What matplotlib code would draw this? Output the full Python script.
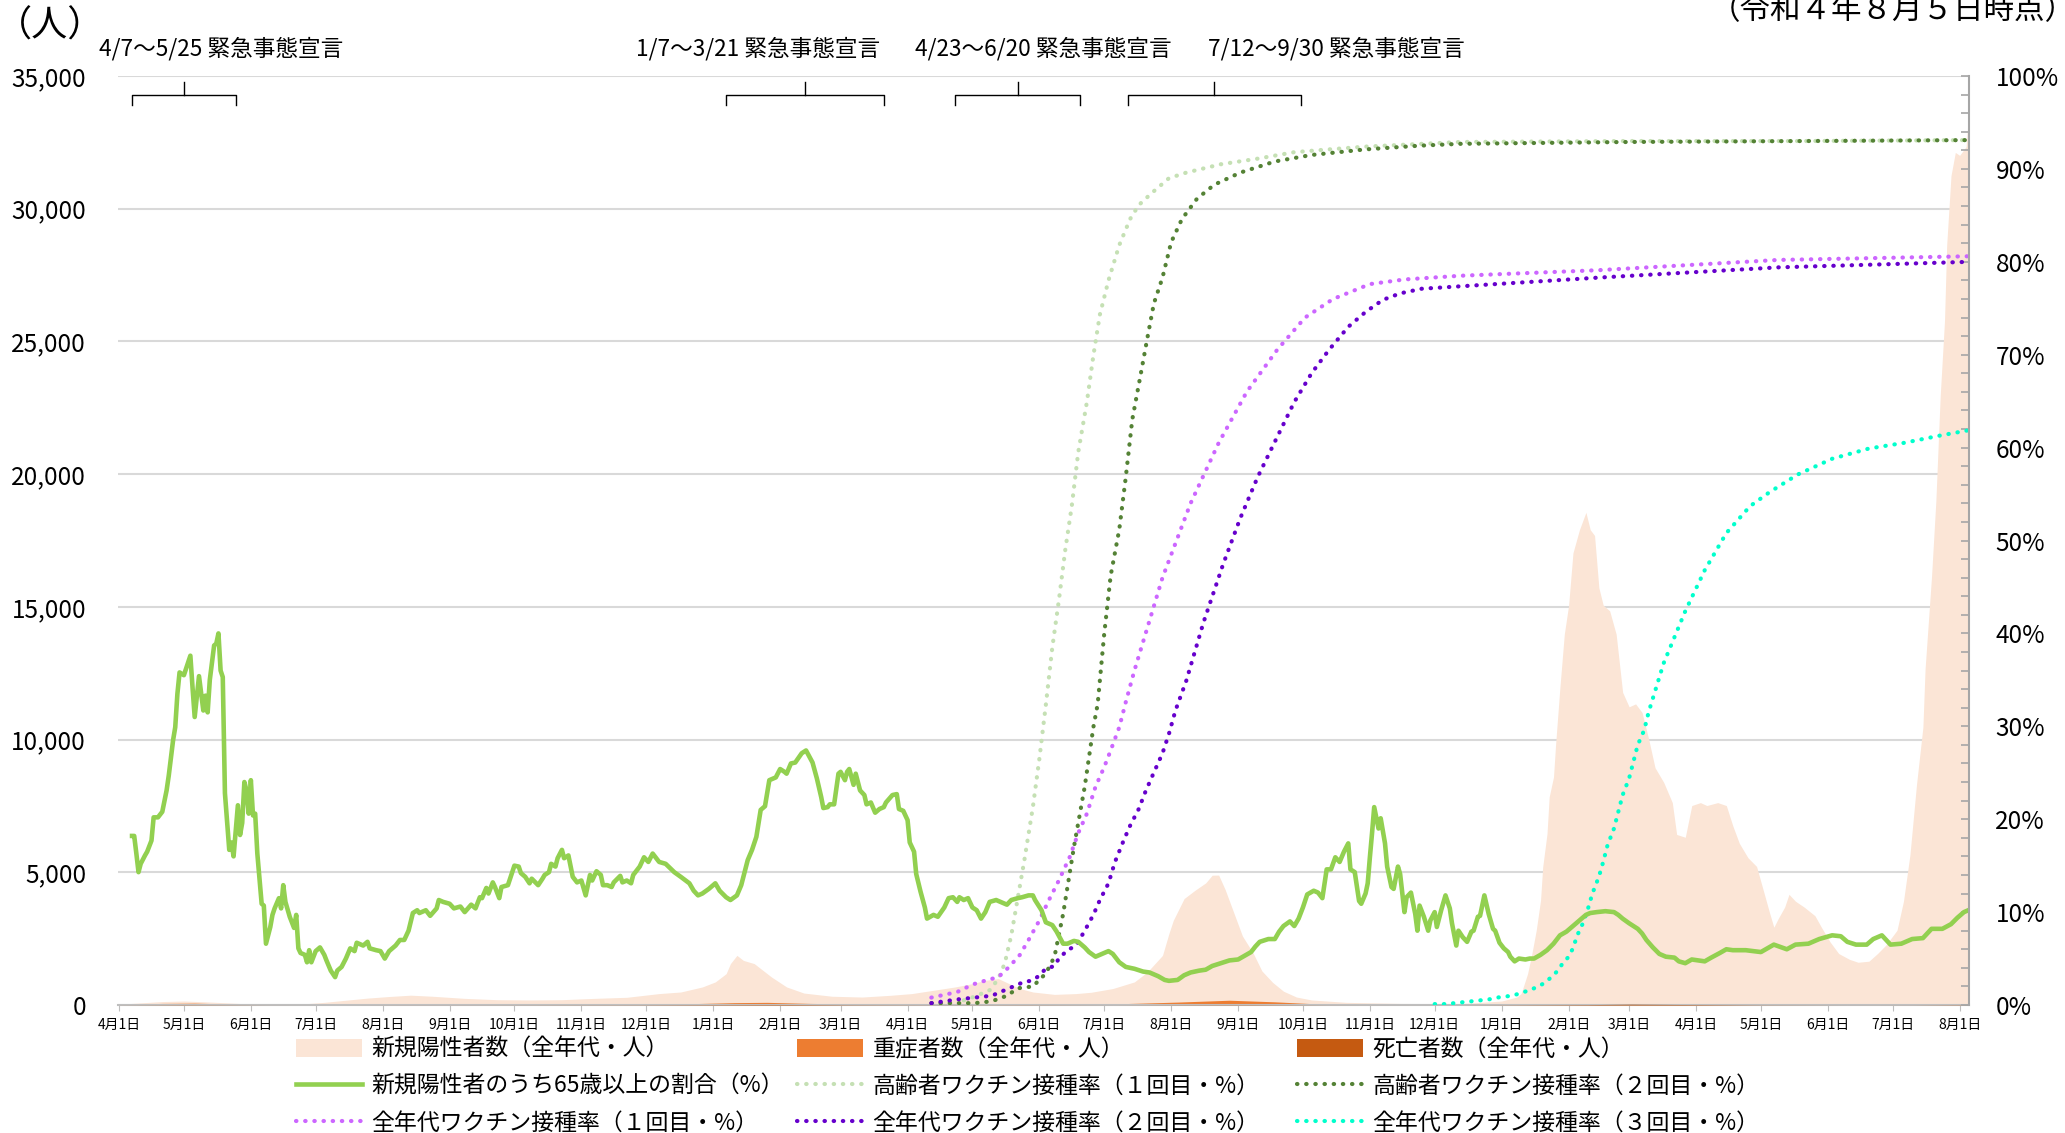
import matplotlib
matplotlib.use('Agg')
import matplotlib.pyplot as plt
import matplotlib.dates as mdates
from matplotlib.ticker import FuncFormatter, MultipleLocator
import pandas as pd

plt.rcParams['font.family'] = ['Noto Sans CJK JP', 'DejaVu Sans']

# all series: (days since 2020-04-01, value)
BASE = pd.Timestamp('2020-04-01')

positives = [
    (0, 30), (10, 80), (20, 130), (30, 150), (40, 120), (50, 80), (60, 40), (70, 20),
    (85, 40), (95, 100), (105, 180), (115, 260), (125, 320), (135, 370), (145, 330),
    (160, 250), (175, 200), (190, 190), (205, 200), (220, 250), (235, 290), (250, 430),
    (260, 490), (270, 680), (276, 870), (281, 1180), (283, 1560), (286, 1870), (289, 1680),
    (294, 1560), (297, 1370), (302, 1055), (309, 680), (317, 450), (330, 330), (344, 300),
    (357, 365), (367, 430), (377, 555), (387, 680), (395, 805), (401, 930), (407, 995),
    (412, 805), (417, 620), (423, 490), (433, 400), (443, 430), (450, 480), (460, 620),
    (470, 870), (476, 1245), (483, 1870), (486, 2700), (488, 3190), (493, 4010), (498, 4320),
    (503, 4600), (506, 4890), (509, 4895), (512, 4350), (516, 3475), (520, 2600), (525, 1950),
    (529, 1285), (534, 850), (539, 520), (545, 300), (552, 190), (568, 100), (593, 60),
    (621, 50), (640, 150), (647, 300), (649, 430), (652, 1180), (654, 1940), (656, 2815),
    (658, 3945), (659, 5200), (661, 6460), (662, 7840), (664, 8590), (665, 9850), (667, 12000),
    (669, 13970), (671, 15065), (673, 17030), (676, 17905), (679, 18560), (681, 17905),
    (683, 17690), (685, 15720), (687, 15065), (690, 14850), (693, 13970), (696, 11780),
    (699, 11235), (702, 11345), (705, 11020), (708, 10035), (711, 8940), (715, 8390),
    (719, 7625), (721, 6425), (725, 6320), (728, 7515), (732, 7625), (735, 7515), (740, 7625),
    (744, 7515), (747, 6750), (750, 6095), (754, 5550), (758, 5220), (761, 4350), (764, 3475),
    (766, 2930), (768, 3255), (771, 3690), (773, 4170), (776, 3910), (780, 3690), (785, 3365),
    (788, 2930), (792, 2380), (796, 1940), (801, 1720), (805, 1610), (810, 1650), (814, 1940),
    (818, 2270), (823, 2815), (826, 3910), (829, 5660), (832, 8280), (835, 10470),
    (836, 12655), (839, 16155), (841, 19000), (843, 22935), (845, 25780), (846, 28620),
    (848, 31245), (850, 32120), (852, 32010), (855, 32340), (856, 33430), (857, 33430),
]

severe = [
    (0, 20), (20, 60), (35, 70), (55, 30), (75, 10), (100, 10), (125, 15), (150, 20),
    (180, 15), (210, 20), (240, 30), (265, 50), (285, 90), (300, 100), (320, 60), (345, 30),
    (375, 25), (405, 45), (430, 30), (460, 40), (490, 110), (514, 180), (535, 120), (555, 40),
    (575, 10), (620, 3), (660, 10), (690, 50), (720, 40), (760, 15), (800, 5), (830, 10),
    (857, 25),
]

deaths = [
    (0, 1), (30, 8), (50, 5), (70, 1), (100, 0), (130, 2), (170, 2), (240, 5), (290, 15),
    (310, 18), (340, 8), (380, 3), (420, 5), (460, 1), (500, 8), (525, 10), (560, 2),
    (620, 0), (680, 15), (700, 30), (720, 20), (760, 5), (800, 1), (830, 2), (857, 10),
]

over65 = [
    (6, 18.2), (7, 18.2), (8, 16.3), (9, 14.3), (10, 15.2), (12, 16.1), (13, 16.5), (15, 17.7),
    (16, 20.2), (18, 20.2), (20, 20.8), (22, 23.1), (23, 24.7), (25, 28.5), (26, 29.9),
    (27, 33.5), (28, 35.8), (30, 35.5), (31, 36.2), (33, 37.6), (34, 34.2), (35, 31.0),
    (37, 35.4), (39, 31.7), (40, 33.3), (41, 31.5), (42, 35.0), (44, 38.7), (45, 38.9),
    (46, 40.0), (47, 36.0), (48, 35.3), (49, 22.8), (51, 16.7), (52, 17.5), (53, 16.0),
    (55, 21.5), (56, 18.3), (57, 19.6), (58, 24.0), (59, 23.1), (60, 20.6), (61, 24.2),
    (62, 20.4), (63, 20.6), (64, 16.3), (66, 10.9), (67, 10.7), (68, 6.6), (70, 8.4),
    (71, 9.7), (72, 10.4), (74, 11.5), (75, 10.4), (76, 12.9), (77, 11.1), (79, 9.5),
    (81, 8.3), (82, 9.7), (83, 6.1), (84, 5.6), (86, 5.4), (87, 4.6), (88, 5.9), (89, 4.6),
    (91, 5.8), (93, 6.2), (95, 5.4), (96, 4.8), (98, 3.7), (100, 3.0), (101, 3.7), (103, 4.1),
    (105, 5.0), (107, 6.1), (109, 5.8), (110, 6.7), (113, 6.4), (115, 6.8), (116, 6.1),
    (119, 5.9), (121, 5.8), (123, 5.0), (125, 5.8), (128, 6.4), (130, 7.0), (132, 7.0),
    (134, 8.0), (136, 9.9), (138, 10.2), (139, 9.9), (142, 10.2), (144, 9.6), (147, 10.4),
    (148, 11.3), (150, 11.1), (153, 10.9), (155, 10.4), (158, 10.6), (160, 10.0), (163, 10.8),
    (165, 10.4), (167, 11.6), (168, 11.5), (170, 12.6), (171, 12.0), (173, 13.2), (174, 12.7),
    (176, 11.5), (177, 12.7), (180, 12.9), (181, 13.6), (183, 15.0), (185, 14.9), (186, 14.2),
    (188, 13.8), (190, 13.1), (191, 13.6), (194, 12.9), (196, 13.6), (197, 14.0), (199, 14.3),
    (200, 15.2), (202, 14.9), (203, 15.8), (205, 16.7), (206, 15.8), (208, 16.1), (210, 13.8),
    (212, 13.2), (214, 13.4), (216, 11.8), (218, 14.0), (219, 13.4), (221, 14.4), (223, 14.0),
    (224, 12.9), (226, 12.9), (228, 12.7), (229, 13.2), (232, 13.9), (233, 13.2), (235, 13.4),
    (237, 13.1), (238, 14.0), (241, 14.9), (243, 15.9), (245, 15.4), (247, 16.3), (250, 15.4),
    (253, 15.2), (257, 14.3), (260, 13.8), (264, 13.1), (266, 12.3), (268, 11.8), (270, 12.0),
    (273, 12.5), (276, 13.1), (278, 12.3), (281, 11.6), (283, 11.3), (286, 11.8), (288, 12.9),
    (291, 15.6), (293, 16.7), (295, 18.1), (297, 21.0), (299, 21.4), (301, 24.2), (304, 24.5),
    (306, 25.4), (308, 25.1), (309, 24.9), (311, 26.0), (313, 26.1), (316, 27.1), (318, 27.4),
    (321, 26.1), (323, 24.4), (325, 22.4), (326, 21.2), (328, 21.3), (329, 21.6), (331, 21.6),
    (333, 24.9), (334, 25.1), (336, 24.2), (337, 25.1), (338, 25.4), (340, 23.7), (341, 24.9),
    (343, 23.1), (345, 22.6), (346, 21.6), (348, 21.8), (350, 20.7), (352, 21.1), (354, 21.3),
    (355, 21.8), (358, 22.6), (360, 22.7), (361, 21.1), (363, 20.9), (365, 19.9), (366, 17.5),
    (368, 16.5), (369, 14.1), (371, 12.2), (373, 10.5), (374, 9.3), (377, 9.7), (379, 9.5),
    (382, 10.5), (384, 11.5), (386, 11.6), (388, 11.1), (389, 11.6), (391, 11.3), (393, 11.5),
    (395, 10.5), (397, 10.2), (399, 9.3), (401, 10.0), (403, 11.1), (406, 11.3), (408, 11.1),
    (411, 10.8), (413, 11.3), (416, 11.5), (418, 11.6), (421, 11.8), (423, 11.8), (424, 11.3),
    (427, 10.2), (429, 8.9), (432, 8.6), (434, 7.9), (437, 6.6), (439, 6.6), (442, 6.9),
    (444, 6.8), (447, 6.2), (449, 5.7), (452, 5.2), (455, 5.5), (458, 5.8), (460, 5.5),
    (463, 4.6), (466, 4.1), (470, 3.9), (474, 3.6), (477, 3.5), (481, 3.1), (484, 2.7),
    (486, 2.6), (490, 2.7), (493, 3.2), (496, 3.5), (500, 3.7), (503, 3.8), (506, 4.2),
    (510, 4.5), (514, 4.8), (518, 4.9), (521, 5.3), (524, 5.7), (526, 6.3), (528, 6.8),
    (532, 7.1), (535, 7.1), (537, 7.9), (539, 8.5), (542, 9.0), (544, 8.5), (546, 9.3),
    (548, 10.5), (550, 11.9), (553, 12.3), (555, 12.1), (557, 11.5), (559, 14.6), (561, 14.6),
    (563, 15.9), (565, 15.4), (567, 16.5), (569, 17.4), (570, 14.6), (572, 14.3), (574, 11.2),
    (575, 10.9), (577, 12.0), (578, 13.1), (579, 15.9), (580, 18.5), (581, 21.3), (583, 19.0),
    (584, 20.1), (586, 17.4), (587, 14.9), (589, 12.7), (590, 12.5), (592, 14.9), (593, 14.1),
    (595, 10.0), (596, 11.6), (598, 12.1), (600, 9.8), (601, 8.0), (602, 10.7), (604, 9.5),
    (606, 8.0), (607, 9.1), (609, 10.0), (610, 8.4), (612, 10.2), (614, 11.8), (616, 10.4),
    (617, 8.8), (619, 6.4), (620, 8.0), (622, 7.3), (624, 6.8), (626, 7.9), (627, 8.0),
    (629, 9.5), (630, 9.6), (632, 11.8), (634, 9.8), (636, 8.2), (637, 8.0), (639, 6.7),
    (641, 6.1), (643, 5.7), (644, 5.2), (646, 4.7), (648, 5.0), (651, 4.9), (653, 5.0),
    (655, 5.0), (658, 5.4), (661, 5.9), (664, 6.6), (667, 7.5), (670, 7.9), (673, 8.5),
    (676, 9.1), (679, 9.7), (681, 9.9), (684, 10.0), (688, 10.1), (692, 10.0), (694, 9.7),
    (696, 9.3), (699, 8.8), (703, 8.2), (705, 7.7), (707, 7.0), (710, 6.2), (713, 5.5),
    (716, 5.2), (720, 5.1), (722, 4.7), (725, 4.5), (728, 4.9), (731, 4.8), (734, 4.7),
    (737, 5.1), (741, 5.6), (744, 6.0), (747, 5.9), (753, 5.9), (760, 5.7), (766, 6.5),
    (772, 6.0), (776, 6.5), (782, 6.6), (787, 7.1), (793, 7.5), (797, 7.4), (800, 6.8),
    (804, 6.5), (809, 6.5), (812, 7.1), (816, 7.5), (820, 6.5), (825, 6.6), (830, 7.1),
    (835, 7.2), (839, 8.2), (844, 8.2), (848, 8.7), (851, 9.4), (854, 10.0), (857, 10.3),
]

elder_1st = [
    (391, 0.5), (396, 0.9), (403, 1.6), (407, 2.8), (410, 4.5), (413, 7.5), (416, 11.5),
    (419, 15.5), (423, 21.3), (426, 26.5), (429, 32.3), (432, 38.5), (435, 43.5), (438, 49.0),
    (441, 53.7), (444, 59.5), (448, 64.9), (451, 69.9), (454, 74.3), (458, 78.0), (463, 81.8),
    (468, 84.6), (472, 86.1), (478, 87.4), (486, 89.0), (494, 89.6), (510, 90.5), (527, 91.1),
    (544, 91.8), (560, 92.1), (577, 92.4), (621, 92.9), (700, 93.0), (780, 93.0), (857, 93.1),
]

elder_2nd = [
    (376, 0.2), (396, 0.2), (404, 0.4), (411, 1.0), (416, 1.8), (423, 2.0), (429, 3.4),
    (433, 5.2), (437, 9.8), (442, 17.0), (447, 23.5), (451, 29.9), (453, 32.4), (456, 39.9),
    (459, 46.2), (463, 51.2), (466, 56.8), (469, 63.0), (473, 68.0), (476, 71.8), (479, 75.5),
    (483, 78.3), (487, 82.1), (492, 84.6), (499, 86.8), (507, 88.3), (519, 89.6), (535, 90.8),
    (552, 91.5), (577, 92.1), (602, 92.5), (621, 92.7), (700, 92.9), (780, 93.0), (857, 93.1),
]

all_1st = [
    (376, 0.8), (388, 1.4), (395, 2.2), (402, 2.7), (407, 3.0), (412, 4.1), (417, 5.4),
    (421, 7.0), (426, 9.1), (430, 11.1), (435, 13.4), (440, 15.9), (444, 18.5), (448, 20.6),
    (452, 23.5), (456, 25.6), (459, 27.4), (463, 29.9), (466, 32.6), (470, 36.0), (483, 46.0),
    (496, 54.0), (509, 60.5), (522, 66.0), (536, 70.5), (549, 74.0), (562, 76.0), (579, 77.6),
    (595, 78.1), (621, 78.5), (685, 79.1), (768, 80.2), (857, 80.6),
]

all_2nd = [
    (376, 0.2), (388, 0.6), (396, 0.8), (404, 1.0), (410, 1.6), (415, 2.1), (419, 2.5),
    (422, 2.6), (425, 3.0), (429, 3.9), (433, 4.2), (435, 5.0), (439, 5.9), (443, 6.4),
    (447, 8.0), (451, 9.7), (454, 11.3), (458, 13.1), (461, 15.4), (465, 17.7), (468, 19.3),
    (472, 21.1), (475, 22.9), (478, 24.5), (483, 27.1), (486, 29.2), (489, 31.7), (494, 34.9),
    (502, 41.2), (511, 47.4), (519, 52.4), (527, 56.8), (536, 61.1), (544, 64.9), (552, 68.0),
    (560, 70.5), (569, 73.0), (577, 74.6), (585, 75.9), (593, 76.6), (603, 77.1), (685, 78.3),
    (768, 79.4), (857, 80.0),
]

all_3rd = [
    (609, 0.1), (614, 0.1), (618, 0.2), (622, 0.3), (626, 0.4), (630, 0.5), (634, 0.6),
    (638, 0.8), (641, 0.9), (645, 1.0), (649, 1.3), (653, 1.6), (657, 2.0), (660, 2.4),
    (663, 3.0), (666, 3.7), (668, 4.4), (671, 5.2), (673, 6.1), (675, 7.5), (678, 9.0),
    (680, 10.4), (682, 12.0), (685, 13.8), (687, 15.4), (689, 17.2), (692, 19.0), (694, 20.8),
    (696, 22.6), (699, 24.4), (701, 26.2), (703, 28.0), (706, 29.6), (708, 31.5), (715, 36.8),
    (725, 42.4), (734, 46.8), (744, 50.8), (755, 53.7), (764, 55.2), (777, 57.1), (793, 58.8),
    (810, 59.9), (826, 60.5), (843, 61.3), (857, 61.9),
]

declarations = [
    ('2020-04-07', '2020-05-25', '4/7～5/25 緊急事態宣言'),
    ('2021-01-07', '2021-03-21', '1/7～3/21 緊急事態宣言'),
    ('2021-04-23', '2021-06-20', '4/23～6/20 緊急事態宣言'),
    ('2021-07-12', '2021-09-30', '7/12～9/30 緊急事態宣言'),
]
decl_label_x = [-0.0103, 0.2799, 0.4306, 0.5889]  # axes fraction


def unpack(pairs):
    d, v = zip(*pairs)
    return BASE + pd.to_timedelta(list(d), unit='D'), list(v)


fig = plt.figure(figsize=(20.65, 11.33), dpi=100)
ax = fig.add_axes([0.05714, 0.11297, 0.89637, 0.81995])
ax2 = ax.twinx()

x, y = unpack(positives)
h_pos = ax.fill_between(x, 0, y, color='#FBE5D6', lw=0, zorder=1)
x, y = unpack(severe)
h_sev = ax.fill_between(x, 0, y, color='#ED7D31', lw=0, zorder=2)
x, y = unpack(deaths)
h_death = ax.fill_between(x, 0, y, color='#C55A11', lw=0, zorder=3)

dots = dict(lw=3, linestyle=(0, (0.1, 2.1)), dash_capstyle='round')
x, y = unpack(elder_1st)
h_e1, = ax2.plot(x, y, color='#C5E0B4', **dots)
x, y = unpack(elder_2nd)
h_e2, = ax2.plot(x, y, color='#548235', **dots)
x, y = unpack(all_1st)
h_a1, = ax2.plot(x, y, color='#CC66FF', **dots)
x, y = unpack(all_2nd)
h_a2, = ax2.plot(x, y, color='#6600CC', **dots)
x, y = unpack(all_3rd)
h_a3, = ax2.plot(x, y, color='#00FFCC', **dots)
x, y = unpack(over65)
h_old, = ax2.plot(x, y, color='#92D050', lw=3.3, solid_joinstyle='round')

# axes
ax.set_xlim(pd.Timestamp('2020-03-31 12:00'), pd.Timestamp('2022-08-05 08:00'))
ax.set_ylim(0, 35000)
ax.set_yticks(range(0, 35001, 5000))
ax.yaxis.set_major_formatter(FuncFormatter(lambda v, p: f'{int(v):,}'))
ax.tick_params(axis='y', length=0, pad=23, labelsize=17.5)
ax.grid(axis='y', color='#D9D9D9', lw=1.5)
ax.set_axisbelow(True)
ax.xaxis.set_major_locator(mdates.MonthLocator())
ax.xaxis.set_major_formatter(FuncFormatter(lambda v, p: f'{mdates.num2date(v).month}月1日'))
ax.tick_params(axis='x', length=4, color='#BFBFBF', labelsize=10, pad=5.5)
for s in ['left', 'top', 'right']:
    ax.spines[s].set_visible(False)
ax.spines['bottom'].set_color('#BFBFBF')
ax.spines['bottom'].set_linewidth(1.5)

ax2.set_ylim(0, 100)
ax2.set_yticks(range(0, 101, 10))
ax2.yaxis.set_minor_locator(MultipleLocator(2))
ax2.yaxis.set_major_formatter(FuncFormatter(lambda v, p: f'{int(v)}%'))
ax2.tick_params(axis='y', which='both', direction='in', length=6, width=1.2,
                color='#A6A6A6', labelsize=17.5, pad=19)
for s in ['left', 'top', 'bottom']:
    ax2.spines[s].set_visible(False)
ax2.spines['right'].set_color('#A6A6A6')
ax2.spines['right'].set_linewidth(1.5)

# emergency declaration braces
tr = ax.get_xaxis_transform()
for (start, end, label), lx in zip(declarations, decl_label_x):
    s, e = pd.Timestamp(start), pd.Timestamp(end)
    m = s + (e - s) / 2
    ax.plot([s, s, e, e], [0.9684, 0.9798, 0.9798, 0.9684], color='black', lw=1,
            transform=tr, clip_on=False, zorder=5)
    ax.plot([m, m], [0.9798, 0.9939], color='black', lw=1, transform=tr,
            clip_on=False, zorder=5)
    ax.text(lx, 1.029, label, transform=ax.transAxes, fontsize=16.3, va='center', ha='left')

fig.text(-0.002, 1 - 27 / 1133, '（人）', fontsize=26, va='center', ha='left')
fig.text(1.005, 1 - 11 / 1133, '（令和４年８月５日時点）', fontsize=22, va='center', ha='right')

# legend: three columns placed separately
cols = [
    ([h_pos, h_old, h_a1], ['新規陽性者数（全年代・人）', '新規陽性者のうち65歳以上の割合（%）',
                            '全年代ワクチン接種率（１回目・%）']),
    ([h_sev, h_e1, h_a2], ['重症者数（全年代・人）', '高齢者ワクチン接種率（１回目・%）',
                           '全年代ワクチン接種率（２回目・%）']),
    ([h_death, h_e2, h_a3], ['死亡者数（全年代・人）', '高齢者ワクチン接種率（２回目・%）',
                             '全年代ワクチン接種率（３回目・%）']),
]
for (hs, ls), cx in zip(cols, [296, 797, 1297]):
    fig.legend(hs, ls, loc='upper left', bbox_to_anchor=(cx / 2065, 1 - 1038 / 1133),
               frameon=False, fontsize=16.5, handlelength=2.9, handletextpad=0.4,
               handleheight=0.8, labelspacing=0.6, borderpad=0, borderaxespad=0)

fig.savefig('out.png', dpi=100)
